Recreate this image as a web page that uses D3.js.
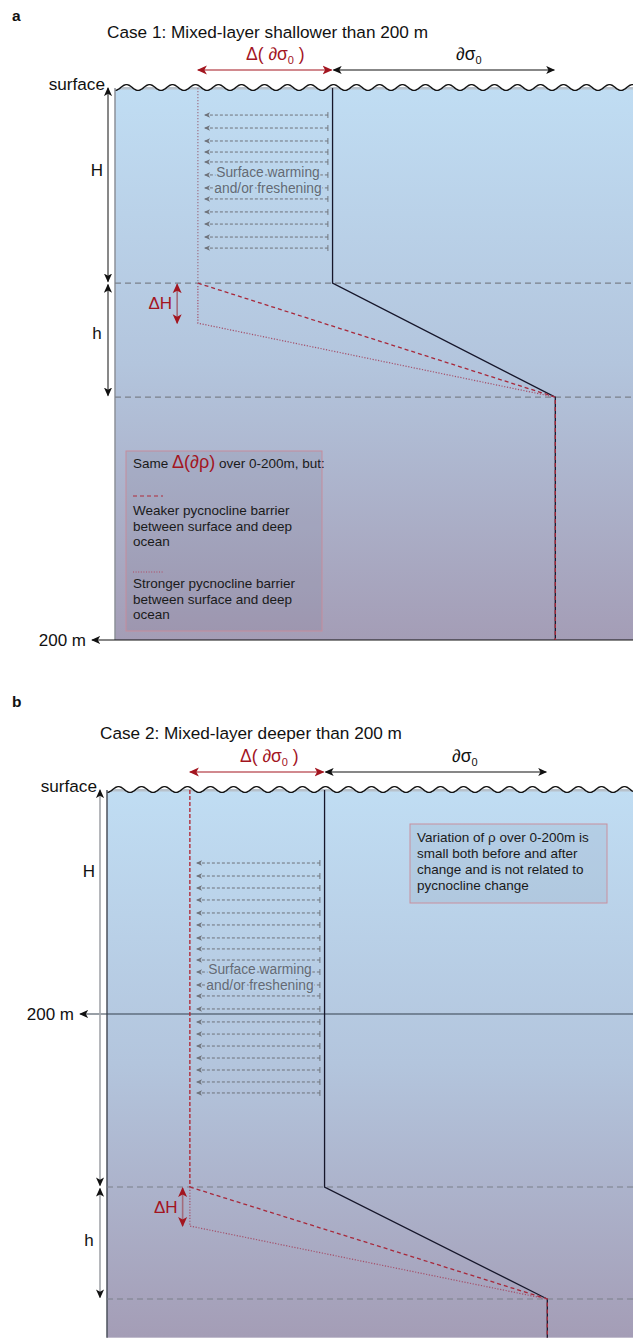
<!DOCTYPE html>
<html>
<head>
<meta charset="utf-8">
<script src="https://cdn.jsdelivr.net/npm/d3@7"></script>
<style>
body { margin: 0; background: #fff; }
svg { display: block; font-family: "Liberation Sans", Arial, sans-serif; }
</style>
</head>
<body>
<svg id="chart" width="633" height="1338"></svg>
<script>
// density axis in arbitrary units (0 = left wall of the ocean box, 100 = right side)
var sigmaAfter = 16, sigmaBefore = 42, sigmaDeep = 85;
var warmFrom = 41.1, warmTo = 17.3;

// depths in m: surface, H, H+dH, H+h, bottom of frame
var depthsA = [0, 70.7, 85.2, 112, 200];
var depthsB = [0, 354.5, 389.3, 454.5, 489];

// depths of the "surface warming" arrows
var warmRowsA = [9.8, 14.5, 19.2, 23.2, 26.8, 31.5, 36.2, 40.2, 44.9, 49.3, 54.0, 58.0];
var warmRowsB = [65.2, 76.8, 87.5, 98.2, 109.8, 120.5, 132.1, 141.9, 151.8, 162.5, 174.1, 183.9,
                 195.5, 207.1, 217.9, 228.6, 239.3, 250, 260.7, 270.5];

var legendA = ["Weaker pycnocline barrier", "between surface and deep", "ocean"];
var legendA2 = ["Stronger pycnocline barrier", "between surface and deep", "ocean"];
var noteB = ["Variation of \u03c1 over 0-200m is", "small both before and after",
             "change and is not related to", "pycnocline change"];

var W = 633;
var RED = "#a3151f";
var svg = d3.select("#chart");
var defs = svg.append("defs");

function marker(id, color, size) {
    defs.append("marker").attr("id", id)
        .attr("viewBox", "0 0 10 10").attr("refX", 9).attr("refY", 5)
        .attr("markerWidth", size).attr("markerHeight", size)
        .attr("markerUnits", "userSpaceOnUse")
        .attr("orient", "auto-start-reverse")
        .append("path").attr("d", "M0,0.5 L10,5 L0,9.5 L2.5,5 Z").attr("fill", color);
}
marker("ab", "#111", 9);
marker("ar", RED, 10);
marker("ag", "#6f737b", 6);
defs.append("marker").attr("id", "tg")
    .attr("viewBox", "0 0 10 10").attr("refX", 5).attr("refY", 5)
    .attr("markerWidth", 6).attr("markerHeight", 6)
    .attr("markerUnits", "userSpaceOnUse").attr("orient", "auto")
    .append("path").attr("d", "M5,0 L5,10").attr("stroke", "#6f737b").attr("stroke-width", 1.6);

var gr = defs.append("linearGradient").attr("id", "water")
    .attr("x1", 0).attr("y1", 0).attr("x2", 0).attr("y2", 1);
[[0, "#c0ddf3"], [0.5, "#b3c5dd"], [1, "#a49db6"]].forEach(function (s) {
    gr.append("stop").attr("offset", s[0]).attr("stop-color", s[1]);
});

function drawPanel(p) {
    var x = d3.scaleLinear().domain([0, 100]).range(p.xRange);
    var y = d3.scaleLinear().domain([0, 200]).range(p.yRange);
    var d = p.depths;
    var g = svg.append("g");
    var top = y(0), bot = y(d[4]);
    var line = d3.line().x(function (v) { return x(v[0]); }).y(function (v) { return y(v[1]); });

    // water body
    g.append("rect").attr("x", x(0)).attr("y", top - 1).attr("width", W - x(0)).attr("height", bot - top + 1)
        .attr("fill", "url(#water)");
    g.append("rect").attr("x", x(0)).attr("y", top - 1).attr("width", W - x(0)).attr("height", 2.5)
        .attr("fill", "#b7c1cb");

    // wavy surface
    var pts = d3.range(x(0), W + 1, 1).map(function (px) {
        return [px, top - 0.5 - 2.9 * Math.cos(2 * Math.PI * (px - x(0) - 11.5) / 23)];
    });
    g.append("path").attr("d", d3.line()(pts.concat([[W, top - 8], [x(0), top - 8]])) + "Z")
        .attr("fill", "#fff");
    g.append("path").attr("d", d3.line()(pts)).attr("fill", "none")
        .attr("stroke", "#111").attr("stroke-width", 1.4);

    // left wall
    g.append("line").attr("x1", x(0)).attr("x2", x(0)).attr("y1", top).attr("y2", bot)
        .attr("stroke", p.wallColor).attr("stroke-width", 1.5);

    // mixed layer base and pycnocline base
    [d[1], d[3]].forEach(function (dd) {
        g.append("line").attr("x1", x(0)).attr("x2", W).attr("y1", y(dd)).attr("y2", y(dd))
            .attr("stroke", "#7b808a").attr("stroke-width", 1.1).attr("stroke-dasharray", "6,4");
    });

    // 200 m reference
    g.append("line").attr("x1", W).attr("x2", p.m200X).attr("y1", y(200)).attr("y2", y(200))
        .attr("stroke", p.m200Color).attr("stroke-width", 1.2).attr("marker-end", "url(#ab)");
    g.append("text").attr("x", p.m200X - 6).attr("y", y(200) + 5.5).attr("text-anchor", "end")
        .attr("font-size", 17).attr("fill", "#111").text("200 m");

    // surface warming arrows
    p.rows.forEach(function (r) {
        g.append("line").attr("x1", x(warmFrom)).attr("x2", x(warmTo)).attr("y1", y(r)).attr("y2", y(r))
            .attr("stroke", "#6f737b").attr("stroke-width", 1).attr("stroke-dasharray", "3,2")
            .attr("marker-start", "url(#tg)").attr("marker-end", "url(#ag)");
    });
    ["Surface warming", "and/or freshening"].forEach(function (t, i) {
        g.append("text").attr("x", p.warmText[0]).attr("y", p.warmText[1] + i * 16)
            .attr("text-anchor", "middle").attr("font-size", 13.8).attr("fill", "#656a74")
            .attr("stroke", p.halo).attr("stroke-width", 3).attr("paint-order", "stroke")
            .text(t);
    });

    // profiles
    g.append("path").attr("d", line([[sigmaBefore, 0], [sigmaBefore, d[1]], [sigmaDeep, d[3]], [sigmaDeep, d[4]]]))
        .attr("fill", "none").attr("stroke", "#16162a").attr("stroke-width", 1.3);
    g.append("path").attr("d", line([[sigmaAfter, 0], [sigmaAfter, d[1]]]))
        .attr("fill", "none").attr("stroke", p.afterColor).attr("stroke-width", 1.3)
        .attr("stroke-dasharray", p.afterDash);
    g.append("path").attr("d", line([[sigmaAfter, d[1]], [sigmaDeep, d[3]], [sigmaDeep, d[4]]]))
        .attr("fill", "none").attr("stroke", "#a8283a").attr("stroke-width", 1.3).attr("stroke-dasharray", "4,3");
    g.append("path").attr("d", line([[sigmaAfter, d[1]], [sigmaAfter, d[2]], [sigmaDeep, d[3]]]))
        .attr("fill", "none").attr("stroke", "#a4506a").attr("stroke-width", 1.2).attr("stroke-dasharray", "1.2,1.6");

    // depth arrows H and h
    g.append("line").attr("x1", p.axisX).attr("x2", p.axisX).attr("y1", top).attr("y2", y(d[1]) - 1.5)
        .attr("stroke", p.axisColor).attr("stroke-width", p.axisWidth)
        .attr("marker-start", "url(#ab)").attr("marker-end", "url(#ab)");
    g.append("line").attr("x1", p.axisX).attr("x2", p.axisX).attr("y1", y(d[1]) + 1.5).attr("y2", y(d[3]) - 1.5)
        .attr("stroke", p.axisColor).attr("stroke-width", p.axisWidth)
        .attr("marker-start", "url(#ab)").attr("marker-end", "url(#ab)");
    g.append("text").attr("x", p.axisX - 11).attr("y", y(p.labelH) + 6).attr("text-anchor", "middle")
        .attr("font-size", 17).attr("fill", "#111").text("H");
    g.append("text").attr("x", p.axisX - 11).attr("y", y(p.labelh) + 6).attr("text-anchor", "middle")
        .attr("font-size", 17).attr("fill", "#111").text("h");

    // delta H
    g.append("line").attr("x1", x(p.dHSigma)).attr("x2", x(p.dHSigma)).attr("y1", y(d[1]) + 1).attr("y2", y(d[2]))
        .attr("stroke", "#a36b7b").attr("stroke-width", 1.6)
        .attr("marker-start", "url(#ar)").attr("marker-end", "url(#ar)");
    g.append("text").attr("x", x(p.dHSigma) - 5).attr("y", (y(d[1]) + y(d[2])) / 2 + 6)
        .attr("text-anchor", "end").attr("font-size", 17).attr("fill", RED).text("\u0394H");

    // top arrows
    g.append("line").attr("x1", x(sigmaAfter)).attr("x2", x(sigmaBefore) - 1).attr("y1", p.arrowY).attr("y2", p.arrowY)
        .attr("stroke", RED).attr("stroke-width", 1.2)
        .attr("marker-start", "url(#ar)").attr("marker-end", "url(#ar)");
    g.append("line").attr("x1", x(sigmaBefore) + 1).attr("x2", x(sigmaDeep) - 1).attr("y1", p.arrowY).attr("y2", p.arrowY)
        .attr("stroke", "#111").attr("stroke-width", 1.2)
        .attr("marker-start", "url(#ab)").attr("marker-end", "url(#ab)");
    var rl = g.append("text").attr("x", p.redLabelX).attr("y", p.arrowY - 10)
        .attr("font-size", 17.5).attr("fill", RED);
    rl.append("tspan").text("\u0394( \u2202\u03c3");
    rl.append("tspan").attr("font-size", 11).attr("dy", 4).text("0");
    rl.append("tspan").attr("dy", -4).text(" )");
    var bl = g.append("text").attr("x", p.sigLabelX).attr("y", p.arrowY - 10)
        .attr("font-size", 17.5).attr("fill", "#111");
    bl.append("tspan").text("\u2202\u03c3");
    bl.append("tspan").attr("font-size", 11).attr("dy", 4).text("0");

    // headings
    g.append("text").attr("x", 12).attr("y", p.letterY).attr("font-size", 15.5).attr("font-weight", "bold")
        .attr("fill", "#111").text(p.letter);
    g.append("text").attr("x", p.titleX).attr("y", p.titleY).attr("font-size", 17.2)
        .attr("fill", "#111").text(p.title);
    g.append("text").attr("x", p.axisX - 3).attr("y", top + 2).attr("text-anchor", "end")
        .attr("font-size", 17.2).attr("fill", "#111").text("surface");

    return g;
}

var ga = drawPanel({
    xRange: [115, 633], yRange: [88, 640], depths: depthsA, rows: warmRowsA,
    wallColor: "#8c9099", m200X: 92, m200Color: "#111",
    warmText: [268, 177], halo: "#bcd8ee",
    afterColor: "#a07a8e", afterDash: "1.2,1.8",
    axisX: 108, axisColor: "#111", axisWidth: 1, labelH: 29.7, labelh: 88.8,
    dHSigma: 12, arrowY: 70, redLabelX: 246, sigLabelX: 456,
    letter: "a", letterY: 21, title: "Case 1: Mixed-layer shallower than 200 m", titleX: 107, titleY: 38
});

// legend box, panel a
ga.append("rect").attr("x", 126).attr("y", 451).attr("width", 196).attr("height", 180)
    .attr("fill", "rgba(105,95,125,0.12)").attr("stroke", "#c58c9c").attr("stroke-width", 1);
var s = ga.append("text").attr("x", 133).attr("y", 468).attr("font-size", 13.5).attr("fill", "#1a1a1a");
s.append("tspan").text("Same ");
s.append("tspan").attr("font-size", 18).attr("fill", RED).text("\u0394(\u2202\u03c1)");
s.append("tspan").text(" over 0-200m, but:");
ga.append("line").attr("x1", 133).attr("x2", 163).attr("y1", 496).attr("y2", 496)
    .attr("stroke", "#b02a3a").attr("stroke-width", 1).attr("stroke-dasharray", "4,3");
legendA.forEach(function (t, i) {
    ga.append("text").attr("x", 133).attr("y", 515 + i * 15.7).attr("font-size", 13.5).attr("fill", "#1a1a1a").text(t);
});
ga.append("line").attr("x1", 133).attr("x2", 163).attr("y1", 572).attr("y2", 572)
    .attr("stroke", "#b04a62").attr("stroke-width", 1).attr("stroke-dasharray", "1,1.6");
legendA2.forEach(function (t, i) {
    ga.append("text").attr("x", 133).attr("y", 588 + i * 15.7).attr("font-size", 13.5).attr("fill", "#1a1a1a").text(t);
});

var gb = drawPanel({
    xRange: [107, 625], yRange: [790, 1014], depths: depthsB, rows: warmRowsB,
    wallColor: "#4d525c", m200X: 80, m200Color: "#34404e",
    warmText: [260, 974], halo: "#b9d0e7",
    afterColor: "#b0202c", afterDash: "4,2",
    axisX: 100, axisColor: "#a3a6ab", axisWidth: 1.6, labelH: 72, labelh: 401.8,
    dHSigma: 14.6, arrowY: 772, redLabelX: 240, sigLabelX: 452,
    letter: "b", letterY: 707, title: "Case 2: Mixed-layer deeper than 200 m", titleX: 100, titleY: 739
});

// note box, panel b
gb.append("rect").attr("x", 410).attr("y", 824).attr("width", 197).attr("height", 79)
    .attr("fill", "rgba(110,120,150,0.12)").attr("stroke", "#c8909e").attr("stroke-width", 1);
noteB.forEach(function (t, i) {
    gb.append("text").attr("x", 417).attr("y", 842 + i * 16).attr("font-size", 13.5).attr("fill", "#1a1a1a").text(t);
});
</script>
</body>
</html>
